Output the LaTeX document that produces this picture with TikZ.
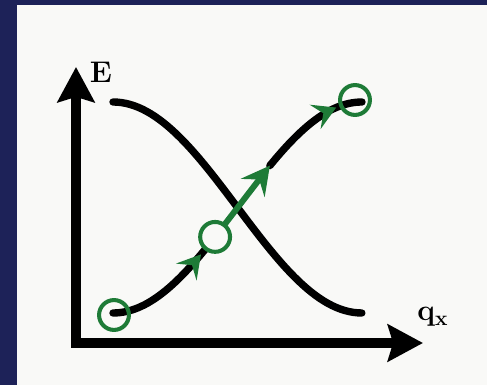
\documentclass[tikz,border=0pt]{standalone}
\usepackage{amsmath,amssymb}
\usepackage{xcolor}
\usepackage{tikz}
\usetikzlibrary{calc,arrows.meta,positioning,decorations.markings}
\definecolor{navyx}{HTML}{1D2258}
\definecolor{greenx}{HTML}{1E7B37}
\definecolor{paperx}{HTML}{F9F9F7}
\tikzset{
  ax/.style={line width=5.7pt,{Stealth[length=20pt,width=21pt,inset=3pt]}-{Stealth[length=20pt,width=21pt,inset=3pt]}},
  bnd/.style={line width=4.2pt,black,line cap=round},
  rg/.style={circle,draw=greenx,line width=2.3pt,minimum size=17pt,inner sep=0pt},
  gtip/.style={-{Stealth[length=16pt,width=17pt,inset=6pt]},line width=3.4pt,greenx},
  gmk/.style={postaction={decorate},decoration={markings,mark=at position #1 with {\arrow[greenx]{Stealth[length=13pt,width=15pt,inset=5pt]}}}},
  lbl/.style={inner sep=0pt,font=\fontsize{17}{19}\selectfont\bfseries}
}

\begin{document}
\begin{tikzpicture}[x=0.02cm,y=0.02cm]
\fill[navyx] (-76,-42) rectangle (411,343);
\fill[paperx] (-59,-42) rectangle (411,338);
% axes
\coordinate (o) at (0,0);
\coordinate (ytop) at (0,276);
\coordinate (xend) at (347,0);
\draw[ax] (ytop) -- (o) -- (xend);
\node[lbl] (e) at (25,271) {E};
\node[lbl] (q) at (357,26) {q\textsubscript{x}};
% bands
\draw[bnd] plot[domain=0:1,samples=60] ({37+249*\x},{241-211*(1-cos(180*\x))/2});
\draw[bnd,gmk=0.83] plot[domain=0:0.41,samples=30] ({37+249*\x},{30+211*(1-cos(180*\x))/2});
\draw[bnd,gmk=0.77] plot[domain=0.63:1,samples=30] ({37+249*\x},{30+211*(1-cos(180*\x))/2});
% states
\coordinate (m) at (139.1,106.1);
\coordinate (p) at (193.9,177.4);
\draw[gtip] (m) -- (p);
\node[rg] (lo) at (38,28) {};
\node[rg,fill=paperx] (mid) at (m) {};
\node[rg] (hi) at (279,243) {};
\end{tikzpicture}
\end{document}
